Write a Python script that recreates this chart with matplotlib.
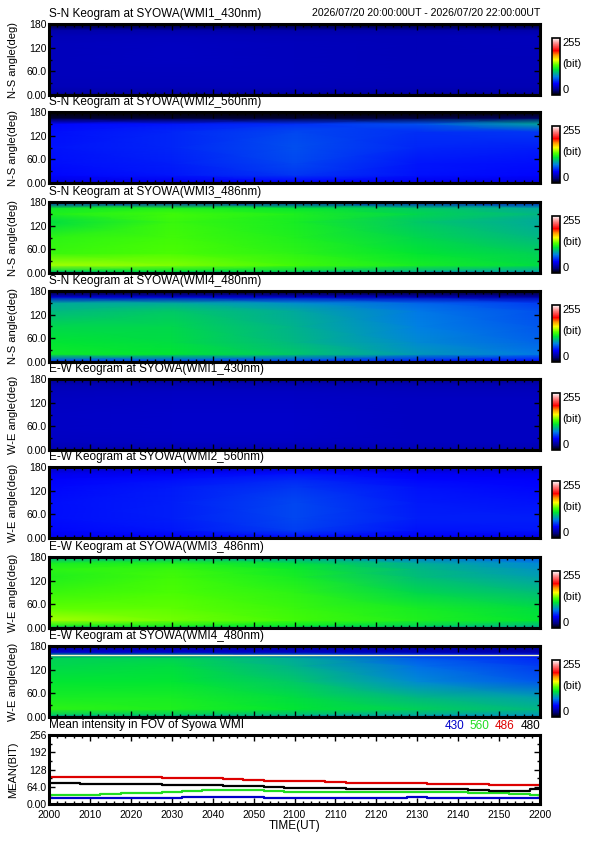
import numpy as np
import matplotlib.pyplot as plt
from matplotlib.colors import LinearSegmentedColormap
from matplotlib.ticker import MultipleLocator
from matplotlib.offsetbox import TextArea, HPacker, AnchoredOffsetbox
import matplotlib.cm as cm

plt.rcParams['font.family'] = ['Liberation Sans', 'DejaVu Sans']

W, H = 595, 842

# header
header_date = "2026/07/20 20:00:00UT - 2026/07/20 22:00:00UT"
panel_titles = [
    "S-N Keogram at SYOWA(WMI1_430nm)",
    "S-N Keogram at SYOWA(WMI2_560nm)",
    "S-N Keogram at SYOWA(WMI3_486nm)",
    "S-N Keogram at SYOWA(WMI4_480nm)",
    "E-W Keogram at SYOWA(WMI1_430nm)",
    "E-W Keogram at SYOWA(WMI2_560nm)",
    "E-W Keogram at SYOWA(WMI3_486nm)",
    "E-W Keogram at SYOWA(WMI4_480nm)",
]
panel_ylabels = ["N-S angle(deg)"] * 4 + ["W-E angle(deg)"] * 4

# keogram samples: minutes after 20:00UT (columns), angle in deg (rows), value in bit
keo_minutes = [0, 30, 60, 90, 120]
keo_angles = [0, 5, 20, 50, 90, 130, 150, 165, 180]

sn_430 = [[15, 15, 15, 15, 15],
          [30, 30, 30, 30, 30],
          [34, 34, 34, 33, 33],
          [35, 35, 35, 34, 34],
          [35, 36, 35, 34, 34],
          [35, 36, 35, 34, 35],
          [34, 35, 34, 34, 35],
          [30, 30, 30, 30, 30],
          [5, 5, 5, 5, 5]]
sn_560 = [[25, 25, 28, 25, 25],
          [45, 48, 52, 48, 45],
          [52, 56, 64, 55, 52],
          [54, 58, 68, 56, 54],
          [55, 60, 70, 60, 58],
          [54, 60, 68, 62, 64],
          [52, 56, 62, 70, 95],
          [8, 8, 8, 10, 16],
          [0, 0, 0, 0, 0]]
sn_486 = [[60, 60, 60, 55, 50],
          [110, 115, 110, 100, 95],
          [145, 140, 130, 120, 112],
          [128, 132, 125, 115, 108],
          [125, 130, 122, 110, 100],
          [112, 128, 120, 105, 95],
          [122, 130, 122, 110, 100],
          [118, 122, 115, 105, 95],
          [45, 45, 45, 42, 40]]
sn_480 = [[30, 30, 30, 30, 30],
          [70, 72, 70, 60, 55],
          [118, 115, 105, 90, 80],
          [115, 112, 100, 85, 75],
          [110, 110, 98, 82, 72],
          [100, 105, 95, 80, 70],
          [95, 95, 86, 75, 65],
          [40, 40, 38, 34, 30],
          [5, 5, 5, 5, 5]]
ew_430 = [[25, 25, 25, 25, 25],
          [33, 33, 33, 33, 33],
          [36, 37, 37, 36, 36],
          [37, 38, 38, 36, 36],
          [37, 38, 38, 36, 36],
          [36, 37, 37, 36, 36],
          [35, 36, 36, 35, 35],
          [33, 33, 33, 33, 33],
          [25, 25, 25, 25, 25]]
ew_560 = [[35, 35, 38, 35, 35],
          [48, 50, 55, 50, 48],
          [52, 56, 66, 55, 56],
          [54, 58, 68, 58, 58],
          [54, 58, 68, 57, 55],
          [52, 57, 64, 55, 52],
          [50, 54, 60, 52, 50],
          [46, 48, 54, 48, 46],
          [35, 35, 38, 35, 35]]
ew_486 = [[60, 62, 60, 58, 55],
          [120, 120, 115, 108, 100],
          [145, 138, 130, 122, 115],
          [135, 135, 128, 120, 112],
          [128, 132, 125, 110, 102],
          [122, 130, 120, 102, 92],
          [125, 128, 118, 100, 88],
          [120, 122, 112, 96, 84],
          [95, 95, 90, 78, 70]]
ew_480 = [[50, 50, 50, 48, 45],
          [105, 105, 100, 95, 90],
          [125, 122, 115, 108, 100],
          [120, 120, 112, 100, 92],
          [115, 115, 105, 85, 72],
          [110, 112, 98, 78, 65],
          [108, 108, 95, 72, 60],
          [40, 40, 38, 35, 32],
          [25, 25, 25, 25, 25]]
ew_480_line_angle = 158

keograms = [sn_430, sn_560, sn_486, sn_480, ew_430, ew_560, ew_486, ew_480]

# mean intensity in FOV, every 5 minutes from 20:00UT
mean_minutes = list(range(0, 121, 5))
mean_430 = [21, 21, 21, 21, 21, 21, 22, 25, 25, 25, 25, 22, 22, 22, 21, 21, 21, 22, 26, 24, 22, 22, 22, 22, 22]
mean_560 = [32, 32, 33, 37, 40, 42, 44, 50, 53, 53, 52, 48, 45, 44, 43, 43, 44, 45, 46, 45, 43, 41, 39, 38, 34]
mean_486 = [100, 101, 101, 101, 101, 100, 98, 96, 95, 92, 90, 87, 85, 84, 80, 79, 78, 77, 77, 76, 74, 73, 70, 69, 69]
mean_480 = [77, 78, 76, 75, 75, 73, 70, 70, 69, 68, 66, 63, 61, 60, 58, 57, 56, 55, 55, 55, 54, 51, 50, 50, 54]
series_names = ["430", "560", "486", "480"]
series_colors = ["#0000c8", "#22dd22", "#dd0000", "#000000"]

time_ticks = [0, 10, 20, 30, 40, 50, 60, 70, 80, 90, 100, 110, 120]
time_labels = ["2000", "2010", "2020", "2030", "2040", "2050", "2100",
               "2110", "2120", "2130", "2140", "2150", "2200"]

# rainbow + white colour table
cmap = LinearSegmentedColormap.from_list("rainbow_white", [
    (0.00, (0, 0, 0)),
    (0.08, (0, 0, 0.5)),
    (0.20, (0, 0, 1.0)),
    (0.32, (0, 0.5, 0.9)),
    (0.45, (0, 0.9, 0.2)),
    (0.52, (0.3, 1.0, 0)),
    (0.62, (1.0, 1.0, 0)),
    (0.70, (1.0, 0.6, 0)),
    (0.78, (1.0, 0, 0)),
    (0.90, (1.0, 0.5, 0.5)),
    (1.00, (1.0, 1.0, 1.0)),
])


def px_axes(fig, left, top, width, height):
    return fig.add_axes([left / W, 1 - (top + height) / H, width / W, height / H])


def style_frame(ax):
    for s in ax.spines.values():
        s.set_linewidth(2.2)
    ax.tick_params(which='both', direction='in', top=True, right=True, color='black', width=1)
    ax.tick_params(which='major', length=4, labelsize=7.5, pad=1.5)
    ax.tick_params(which='minor', length=2)


fig = plt.figure(figsize=(W / 100, H / 100), dpi=100)

left, width = 49, 491
tops = [24, 112, 202, 291, 379, 467, 557, 646]
ph = 71

for i, grid in enumerate(keograms):
    top = tops[i]
    ax = px_axes(fig, left, top, width, ph)
    ax.pcolormesh(keo_minutes, keo_angles, np.array(grid, dtype=float),
                  shading='gouraud', cmap=cmap, vmin=0, vmax=255)
    if i == 7:
        ax.axhline(ew_480_line_angle, color='#f4f8c8', lw=1)
    ax.set_xlim(0, 120)
    ax.set_ylim(0, 180)
    ax.set_xticks(time_ticks)
    ax.xaxis.set_minor_locator(MultipleLocator(2))
    ax.set_xticklabels([])
    ax.set_yticks([0, 60, 120, 180])
    ax.set_yticklabels(["0.00", "60.0", "120", "180"])
    ax.yaxis.set_minor_locator(MultipleLocator(30))
    style_frame(ax)
    fig.text(left / W, 1 - (top - 10) / H, panel_titles[i], fontsize=8.5, va='center', ha='left')
    fig.text(13 / W, 1 - (top + ph / 2) / H, panel_ylabels[i], fontsize=8,
             rotation=90, va='center', ha='center')

    # colour bar
    cb_top = top + 14
    cax = px_axes(fig, 552, cb_top, 8, top + ph - cb_top)
    fig.colorbar(cm.ScalarMappable(cmap=cmap, norm=plt.Normalize(0, 255)), cax=cax)
    cax.set_yticks([])
    for s in cax.spines.values():
        s.set_linewidth(1.2)
    cax.text(1.3, 1.0, "255", transform=cax.transAxes, fontsize=8, va='top', ha='left')
    cax.text(1.3, 0.55, "(bit)", transform=cax.transAxes, fontsize=8, va='center', ha='left')
    cax.text(1.3, 0.0, "0", transform=cax.transAxes, fontsize=8, va='bottom', ha='left')

fig.text(540 / W, 1 - 13 / H, header_date, fontsize=7.6, va='center', ha='right')

# mean intensity panel
mtop, mh = 735, 69
ax = px_axes(fig, left, mtop, width, mh)
for vals, c in zip([mean_430, mean_560, mean_486, mean_480], series_colors):
    ax.plot(mean_minutes, vals, color=c, lw=1.6, drawstyle='steps-mid')
ax.set_xlim(0, 120)
ax.set_ylim(0, 256)
ax.set_xticks(time_ticks)
ax.set_xticklabels(time_labels)
ax.xaxis.set_minor_locator(MultipleLocator(2))
ax.set_yticks([0, 64, 128, 192, 256])
ax.set_yticklabels(["0.00", "64.0", "128", "192", "256"])
ax.yaxis.set_minor_locator(MultipleLocator(32))
style_frame(ax)
ax.tick_params(axis='x', which='major', pad=4)
ax.set_xlabel("TIME(UT)", fontsize=8.5, labelpad=0)
fig.text(left / W, 1 - (mtop - 10) / H, "Mean intensity in FOV of Syowa WMI", fontsize=8.5,
         va='center', ha='left')
fig.text(13 / W, 1 - (mtop + mh / 2) / H, "MEAN(BIT)", fontsize=8, rotation=90,
         va='center', ha='center')

parts = [TextArea(n, textprops=dict(color=c, fontsize=8.5)) for n, c in zip(series_names, series_colors)]
box = HPacker(children=parts, align='baseline', pad=0, sep=4)
anch = AnchoredOffsetbox(loc='lower right', child=box, pad=0, borderpad=0, frameon=False,
                         bbox_to_anchor=(1.0, 1.04), bbox_transform=ax.transAxes)
ax.add_artist(anch)

fig.savefig("out.png", dpi=100)
